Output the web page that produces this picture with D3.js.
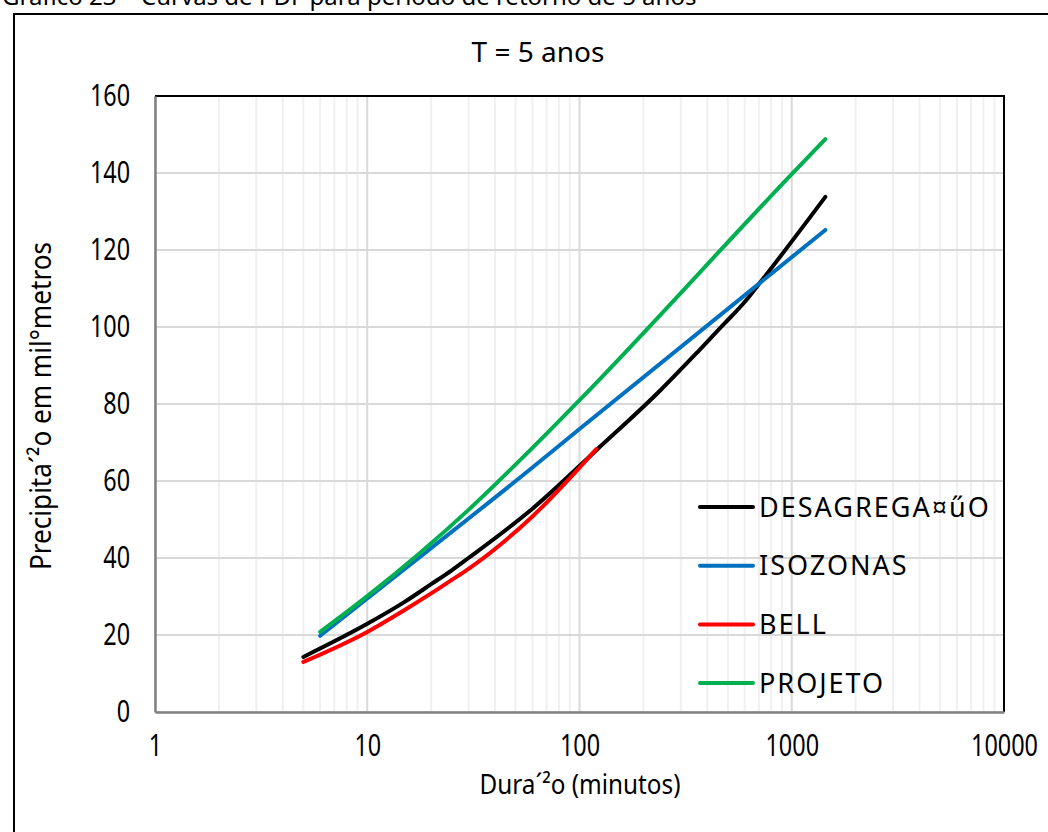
<!DOCTYPE html>
<html>
<head>
<meta charset="utf-8">
<script src="https://cdn.jsdelivr.net/npm/d3@7/dist/d3.min.js"></script>
<style>
  html, body { margin: 0; padding: 0; background: #fff; }
  svg { display: block; }
  text { font-family: "Noto Sans", "Open Sans", sans-serif; fill: #000; }
</style>
</head>
<body>
<svg id="chart" width="1048" height="832"></svg>
<script>
// Precipitation (mm) versus duration (minutes), return period T = 5 years
const desagregacaoDur = [5, 10, 15, 20, 25, 30, 60, 120, 240, 360, 480, 600, 720, 1440];
const desagregacaoVal = [14.3, 22.9, 28.6, 33.2, 36.8, 40.0, 52.8, 68.0, 83.5, 93.5, 100.8, 106.5, 112.0, 133.8];

const isozonasDur = [6, 10, 60, 100, 1440];
const isozonasVal = [19.8, 29.5, 63.5, 73.5, 125.2];

const bellDur = [5, 10, 15, 20, 25, 30, 60, 120];
const bellVal = [13.0, 20.8, 26.5, 30.8, 34.3, 37.2, 50.8, 68.3];

const projetoDur = [6, 10, 30, 60, 100, 1000, 1440];
const projetoVal = [20.8, 30.1, 52.5, 68.6, 81.0, 139.7, 148.8];

const seriesNames = ["DESAGREGA\u00A4\u0171O", "ISOZONAS", "BELL", "PROJETO"];
const seriesColors = ["#000000", "#0070C0", "#FF0000", "#00B050"];

const xTicks = [1, 10, 100, 1000, 10000];
const yTicks = [0, 20, 40, 60, 80, 100, 120, 140, 160];

const chartTitle = "T = 5 anos";
const captionText = "Gr\u00e1fico 23 \u2013 Curvas de PDF para per\u00edodo de retorno de 5 anos";
const xTitle = "Dura\u00b4\u00b2o (minutos)";
const yTitle = "Precipita\u00b4\u00b2o em mil\u00b0metros";

const series = [
  { dur: desagregacaoDur, val: desagregacaoVal },
  { dur: isozonasDur, val: isozonasVal },
  { dur: bellDur, val: bellVal },
  { dur: projetoDur, val: projetoVal }
].map((s, i) => ({
  name: seriesNames[i],
  color: seriesColors[i],
  points: s.dur.map((d, j) => [d, s.val[j]])
}));

const svg = d3.select("#chart");

// caption above the figure frame (runs off the top edge)
svg.append("text")
  .attr("x", 2).attr("y", 5)
  .attr("font-size", 24)
  .text(captionText);

// frame around the figure (extends past the right and bottom edges)
svg.append("rect")
  .attr("x", 14).attr("y", 14)
  .attr("width", 1100).attr("height", 900)
  .attr("fill", "#fff")
  .attr("stroke", "#000").attr("stroke-width", 2);

const plot = { left: 155, right: 1004, top: 96, bottom: 712 };

const x = d3.scaleLog().domain([1, 10000]).range([plot.left, plot.right]);
const y = d3.scaleLinear().domain([0, 160]).range([plot.bottom, plot.top]);

// minor vertical gridlines
const minor = [];
for (let dec = 1; dec < 10000; dec *= 10) {
  for (let k = 2; k <= 9; k++) minor.push(dec * k);
}
svg.append("g").selectAll("line").data(minor).join("line")
  .attr("x1", d => x(d)).attr("x2", d => x(d))
  .attr("y1", plot.top).attr("y2", plot.bottom)
  .attr("stroke", "#f0f0f0").attr("stroke-width", 2);

// major gridlines
svg.append("g").selectAll("line").data(xTicks).join("line")
  .attr("x1", d => x(d)).attr("x2", d => x(d))
  .attr("y1", plot.top).attr("y2", plot.bottom)
  .attr("stroke", "#d9d9d9").attr("stroke-width", 2);
svg.append("g").selectAll("line").data(yTicks).join("line")
  .attr("x1", plot.left).attr("x2", plot.right)
  .attr("y1", d => y(d)).attr("y2", d => y(d))
  .attr("stroke", "#d9d9d9").attr("stroke-width", 2);

// plot area border: top and right in black
svg.append("path")
  .attr("d", `M${plot.left},${plot.top}H${plot.right}V${plot.bottom}`)
  .attr("fill", "none").attr("stroke", "#000").attr("stroke-width", 2);

// axes with narrow, tall tick labels
const squeeze = 0.78;
const xAxis = d3.axisBottom(x).tickValues(xTicks).tickFormat(d3.format("d")).tickSize(0).tickPadding(23);
const yAxis = d3.axisLeft(y).tickValues(yTicks).tickSize(0).tickPadding(32);

const gx = svg.append("g").attr("transform", `translate(0,${plot.bottom})`).call(xAxis);
const gy = svg.append("g").attr("transform", `translate(${plot.left},0)`).call(yAxis);
[gx, gy].forEach(g => {
  g.select(".domain").attr("stroke", "#808080").attr("stroke-width", 2.5);
  g.selectAll("text")
    .attr("font-size", 30)
    .attr("font-family", "'Noto Sans', sans-serif")
    .attr("fill", "#000")
    .attr("transform", `scale(${squeeze},1)`);
});

// series lines
const line = d3.line()
  .x(d => x(d[0])).y(d => y(d[1]))
  .curve(d3.curveMonotoneX);
svg.append("g").selectAll("path").data(series).join("path")
  .attr("d", d => line(d.points))
  .attr("fill", "none")
  .attr("stroke", d => d.color)
  .attr("stroke-width", 4)
  .attr("stroke-linecap", "round");

// titles
svg.append("text")
  .attr("x", 538).attr("y", 62)
  .attr("text-anchor", "middle")
  .attr("font-size", 28)
  .text(chartTitle);
svg.append("text")
  .attr("transform", "translate(580,794) scale(0.9,1)")
  .attr("text-anchor", "middle")
  .attr("font-size", 27)
  .text(xTitle);
svg.append("text")
  .attr("transform", `translate(51,406) rotate(-90) scale(0.9,1)`)
  .attr("text-anchor", "middle")
  .attr("font-size", 29)
  .text(yTitle);

// legend
const legend = svg.append("g").selectAll("g").data(series).join("g")
  .attr("transform", (d, i) => `translate(700,${507 + i * 58.7})`);
legend.append("line")
  .attr("x1", 0).attr("x2", 53)
  .attr("stroke", d => d.color).attr("stroke-width", 4).attr("stroke-linecap", "round");
legend.append("text")
  .attr("x", 59).attr("y", 0).attr("dy", "0.36em")
  .attr("font-size", 27)
  .attr("letter-spacing", 2)
  .text(d => d.name);
</script>
</body>
</html>
